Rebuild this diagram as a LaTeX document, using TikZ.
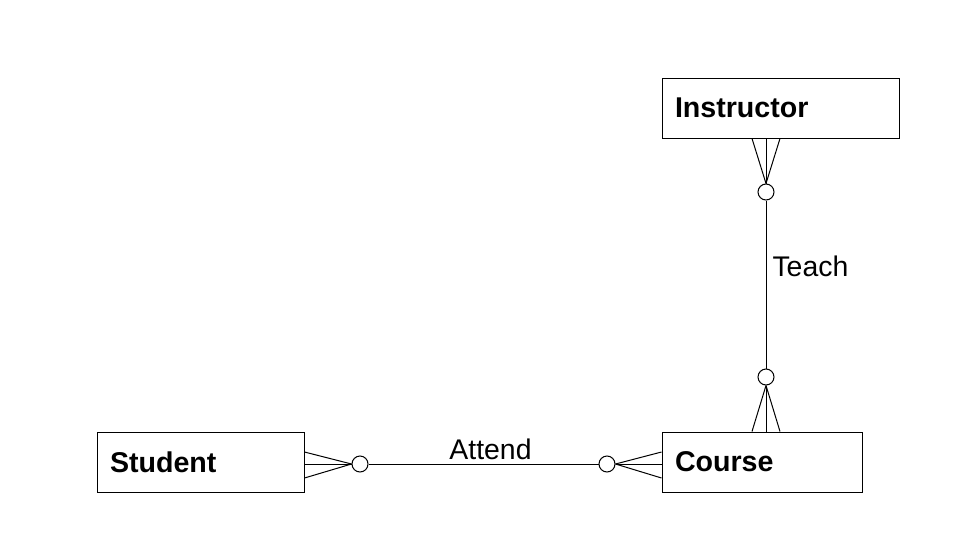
\documentclass[tikz,border=0pt]{standalone}
\usepackage{fontspec}
\setmainfont{Liberation Sans}
\begin{document}
\begin{tikzpicture}[x=1pt,y=-1pt,line width=1pt,
  entity/.style={draw,rectangle,minimum height=60pt,inner xsep=0pt,inner ysep=0pt,font=\fontsize{28.6}{30}\selectfont\bfseries},
  opt/.style={draw,circle,minimum size=16pt,inner sep=0pt,fill=white},
  rel/.style={font=\fontsize{28.4}{30}\selectfont,inner sep=0pt}]
\useasboundingbox (0,0) rectangle (970,536);
% entities
\node[entity,minimum width=237pt,text width=211pt,align=left] (instructor) at (780.5,108) {Instructor};
\node[entity,minimum width=207pt,text width=181pt,align=left] (student) at (200.5,462) {Student};
\node[entity,minimum width=200pt,text width=174pt,align=left] (course) at (762,462) {Course};
% optional circles
\node[opt] (c1) at (360,464) {};
\node[opt] (c2) at (607,464) {};
\node[opt] (c3) at (766,192) {};
\node[opt] (c4) at (766,377) {};
% Attend
\draw (c1.east) -- (c2.west) node[rel,midway,above=4pt,xshift=7pt] (attend) {Attend};
\draw (student.east |- 0,452) -- (c1.west);
\draw (student.east |- 0,464) -- (c1.west);
\draw (student.east |- 0,478) -- (c1.west);
\draw (course.west |- 0,452) -- (c2.east);
\draw (course.west |- 0,464) -- (c2.east);
\draw (course.west |- 0,478) -- (c2.east);
% Teach
\draw (c3.south) -- (c4.north) node[rel,pos=0.4,right=6pt,yshift=1pt] (teach) {Teach};
\draw (instructor.south -| 752,0) -- (c3.north);
\draw (instructor.south -| 766,0) -- (c3.north);
\draw (instructor.south -| 780,0) -- (c3.north);
\draw (course.north -| 752,0) -- (c4.south);
\draw (course.north -| 766,0) -- (c4.south);
\draw (course.north -| 780,0) -- (c4.south);
\end{tikzpicture}
\end{document}
